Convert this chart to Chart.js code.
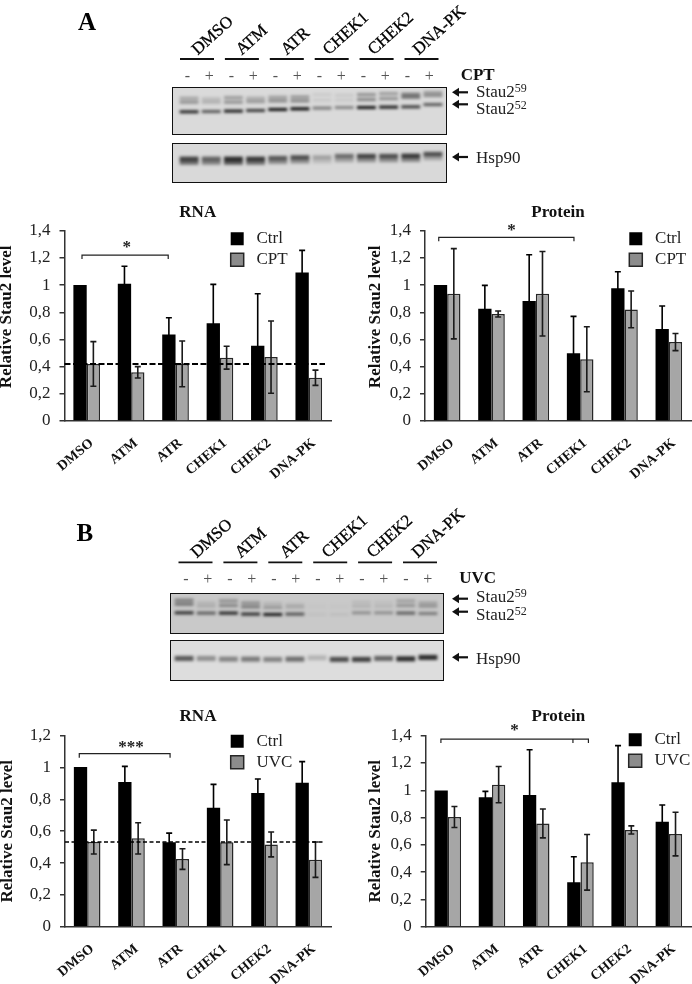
<!DOCTYPE html>
<html>
<head>
<meta charset="utf-8">
<title>Stau2 levels</title>
<script src="https://cdn.jsdelivr.net/npm/chart.js@4/dist/chart.umd.js"></script>
<style>
  html, body { margin: 0; padding: 0; background: #fff; }
  #page { position: relative; width: 692px; height: 984px; overflow: hidden; font-family: "Liberation Serif", serif; color: #111; }
  #page canvas { position: absolute; }
  .txt { position: absolute; white-space: nowrap; line-height: 1; }
  .rot { transform-origin: left center; transform: rotate(-42deg); font-size: 17px; color: #000; -webkit-text-stroke: 0.3px #000; }
  .lane { font-size: 16px; color: #555; transform: translateX(-50%); }
  .side { font-size: 17px; color: #222; }
  .side sup { font-size: 12px; line-height: 0; vertical-align: 5px; }
  .panel { position: absolute; box-sizing: border-box; border: 1.5px solid #111; overflow: hidden; }
  .panel canvas { filter: blur(1.4px); }
  svg { position: absolute; left: 0; top: 0; }
</style>
</head>
<body>
<div id="page">
  <canvas id="rnaA" width="346" height="290" style="left:0;top:195px"></canvas>
  <canvas id="proteinA" width="346" height="290" style="left:346px;top:195px"></canvas>
  <canvas id="rnaB" width="346" height="289" style="left:0;top:695px"></canvas>
  <canvas id="proteinB" width="346" height="289" style="left:346px;top:695px"></canvas>
  <svg id="marks" width="692" height="984"></svg>
</div>
<script>
const categories = ["DMSO", "ATM", "ATR", "CHEK1", "CHEK2", "DNA-PK"];
const lanes = ["-", "+", "-", "+", "-", "+", "-", "+", "-", "+", "-", "+"];

// panel A, RNA
const rnaCtrlA = [1.0, 1.01, 0.637, 0.72, 0.554, 1.093];
const rnaCtrlErrA = [0, 0.128, 0.123, 0.285, 0.382, 0.162];
const rnaCptA = [0.42, 0.358, 0.42, 0.466, 0.47, 0.318];
const rnaCptErrA = [0.164, 0.042, 0.168, 0.084, 0.266, 0.056];

// panel A, protein
const protCtrlA = [1.0, 0.826, 0.882, 0.498, 0.976, 0.677];
const protCtrlErrA = [0, 0.172, 0.341, 0.272, 0.122, 0.169];
const protCptA = [0.936, 0.787, 0.936, 0.454, 0.821, 0.581];
const protCptErrA = [0.332, 0.022, 0.311, 0.239, 0.135, 0.063];

// panel B, RNA
const rnaCtrlB = [1.003, 0.909, 0.53, 0.748, 0.84, 0.905];
const rnaCtrlErrB = [0, 0.098, 0.058, 0.146, 0.088, 0.132];
const rnaUvcB = [0.532, 0.555, 0.425, 0.53, 0.517, 0.421];
const rnaUvcErrB = [0.075, 0.098, 0.065, 0.14, 0.078, 0.111];

// panel B, protein
const protCtrlB = [0.999, 0.948, 0.965, 0.325, 1.058, 0.77];
const protCtrlErrB = [0, 0.044, 0.332, 0.188, 0.269, 0.122];
const protUvcB = [0.804, 1.041, 0.757, 0.472, 0.709, 0.679];
const protUvcErrB = [0.077, 0.133, 0.106, 0.204, 0.03, 0.16];

// blots: band position below the top of the panel and band density, one per lane
const stauUpperPosA = [11.3, 12, 10.7, 11.3, 10.3, 10, 7.7, 8.3, 7.7, 6.7, 7.3, 5.7];
const stauUpperDenA = [0.25, 0.15, 0.3, 0.22, 0.28, 0.32, 0.07, 0.08, 0.35, 0.3, 0.45, 0.3];
const stauMidPosA = [15.3, 15.3, 15.3, 14.7, 14, 14, 13.3, 13.3, 12.7, 11.7, 10.3, 8.7];
const stauMidDenA = [0.35, 0.2, 0.35, 0.3, 0.38, 0.4, 0.08, 0.08, 0.4, 0.35, 0.5, 0.35];
const stauLowPosA = [25, 24.7, 24.3, 23.7, 22.7, 22, 21.3, 20.7, 20.7, 20.3, 20, 17.7];
const stauLowDenA = [0.85, 0.6, 0.9, 0.75, 0.95, 1, 0.45, 0.4, 0.95, 0.9, 0.75, 0.6];
const hspUpperPosA = [16.7, 16.7, 16.7, 16.7, 16, 15.3, 15.3, 14, 14, 14, 13.7, 12];
const hspUpperDenA = [0.7, 0.55, 0.8, 0.75, 0.6, 0.65, 0.25, 0.5, 0.7, 0.65, 0.75, 0.65];
const hspLowerPosA = [20.5, 20.5, 20.5, 20.5, 19.8, 19.2, 19.2, 18, 18, 18, 17.7, 16];
const hspLowerDenA = [0.5, 0.4, 0.6, 0.5, 0.35, 0.35, 0.12, 0.25, 0.35, 0.35, 0.4, 0.25];

const stauUpperPosB = [7.3, 10, 8, 10, 11, 12, 12, 12, 9.3, 9.3, 8, 10];
const stauUpperDenB = [0.4, 0.1, 0.3, 0.3, 0.12, 0.1, 0.01, 0.01, 0.08, 0.05, 0.22, 0.2];
const stauMidPosB = [11.3, 13.3, 12.7, 14, 14.7, 14.3, 14.7, 14.7, 13.3, 13.3, 12.7, 13.3];
const stauMidDenB = [0.45, 0.15, 0.35, 0.4, 0.25, 0.15, 0.015, 0.015, 0.12, 0.1, 0.28, 0.28];
const stauLowPosB = [20, 20.3, 20.3, 21.3, 21.7, 21.3, 21.7, 21.7, 20, 20, 20.3, 20.7];
const stauLowDenB = [0.8, 0.55, 0.85, 0.8, 0.9, 0.6, 0.04, 0.05, 0.3, 0.3, 0.55, 0.4];
const hspUpperPosB = [18.3, 18.3, 19, 19, 19.3, 19, 17.7, 19.3, 19.3, 18.3, 18.7, 17.3];
const hspUpperDenB = [0.6, 0.35, 0.4, 0.45, 0.4, 0.5, 0.18, 0.65, 0.7, 0.55, 0.8, 0.8];

const SERIF = "'Liberation Serif', serif";

const extras = {
  id: "extras",
  afterLayout(chart, args, opts) {
    // put the legend inside the plot, where the figure has it
    chart.legend.left = opts.legendAt[0];
    chart.legend.top = opts.legendAt[1];
  },
  afterDatasetsDraw(chart, args, opts) {
    const ctx = chart.ctx;
    const x = chart.scales.x;
    const y = chart.scales.y;
    ctx.save();
    ctx.lineWidth = 1.6;
    opts.errors.forEach((errs, ds) => {
      ctx.strokeStyle = ds ? "#1a1a1a" : "#000";
      chart.getDatasetMeta(ds).data.forEach((bar, i) => {
        if (!errs[i]) return;
        const v = chart.data.datasets[ds].data[i];
        const hi = y.getPixelForValue(v + errs[i]);
        const lo = y.getPixelForValue(v - errs[i]);
        ctx.beginPath();
        ctx.moveTo(bar.x, hi);
        ctx.lineTo(bar.x, lo);
        ctx.moveTo(bar.x - 3, hi);
        ctx.lineTo(bar.x + 3, hi);
        ctx.moveTo(bar.x - 3, lo);
        ctx.lineTo(bar.x + 3, lo);
        ctx.stroke();
      });
    });
    if (opts.refLine) {
      const ry = y.getPixelForValue(opts.refLine);
      ctx.setLineDash(opts.refDash);
      ctx.lineWidth = opts.refWidth;
      ctx.strokeStyle = "#000";
      ctx.beginPath();
      ctx.moveTo(x.left, ry);
      ctx.lineTo(x.right - 6, ry);
      ctx.stroke();
      ctx.setLineDash([]);
    }
    // significance bracket
    const b = opts.bracket;
    const by = y.getPixelForValue(b.level);
    ctx.lineWidth = 1.2;
    ctx.strokeStyle = "#222";
    ctx.beginPath();
    ctx.moveTo(x.getPixelForValue(b.from), by + 4);
    ctx.lineTo(x.getPixelForValue(b.from), by);
    ctx.lineTo(x.getPixelForValue(b.to), by);
    ctx.lineTo(x.getPixelForValue(b.to), by + 4);
    if (b.mid) {
      ctx.moveTo(x.getPixelForValue(b.mid), by);
      ctx.lineTo(x.getPixelForValue(b.mid), by + 4);
    }
    ctx.stroke();
    ctx.fillStyle = "#222";
    ctx.font = "bold 17px " + SERIF;
    ctx.textAlign = "center";
    ctx.textBaseline = "middle";
    ctx.fillText(b.stars, x.getPixelForValue(b.starAt), y.getPixelForValue(b.starLevel) + 3);
    // y title, not always centred on the axis in the figure
    ctx.fillStyle = "#111";
    ctx.font = "bold 17px " + SERIF;
    ctx.translate(opts.titleX, (y.top + y.bottom) / 2 + opts.titleShift);
    ctx.rotate(-Math.PI / 2);
    ctx.fillText("Relative Stau2 level", 0, 0);
    ctx.restore();
  }
};

function stauChart(id, title, name, ctrl, other, ctrlErr, otherErr, max, o) {
  return new Chart(document.getElementById(id), {
    type: "bar",
    data: {
      labels: categories,
      datasets: [
        { label: "Ctrl", data: ctrl, backgroundColor: "#000", borderWidth: 0 },
        { label: name, data: other, backgroundColor: "#a6a6a6", borderColor: "#262626", borderWidth: 1.5 }
      ]
    },
    options: {
      responsive: false,
      animation: false,
      devicePixelRatio: 1,
      layout: { padding: { left: 0, right: o.padRight, top: 0, bottom: 0 } },
      datasets: { bar: { categoryPercentage: 0.6, barPercentage: 1 } },
      plugins: {
        tooltip: { enabled: false },
        title: {
          display: true, text: title, color: "#111", fullSize: false,
          font: { family: SERIF, size: 17, weight: "bold", lineHeight: 1.2 },
          padding: { top: o.titleTop, bottom: o.titleBottom }
        },
        legend: {
          position: "chartArea",
          align: "start",
          labels: {
            boxWidth: 13, boxHeight: 13, padding: 4, color: "#222",
            font: { family: SERIF, size: 17 },
            generateLabels: (c) => Chart.defaults.plugins.legend.labels.generateLabels(c).map((it, i) => ({
              ...it, text: "\u00a0" + it.text, fillStyle: i ? "#8c8c8c" : "#000"
            }))
          },
          onClick: null
        },
        extras: {
          errors: [ctrlErr, otherErr], refLine: o.refLine, refWidth: o.refWidth, refDash: o.refDash,
          bracket: o.bracket, legendAt: o.legendAt, titleX: o.titleX, titleShift: o.titleShift
        }
      },
      scales: {
        x: {
          grid: { display: false },
          border: { color: "#333", width: 1.5 },
          ticks: {
            autoSkip: false, minRotation: 40, maxRotation: 40, padding: 6, labelOffset: 5, color: "#111",
            font: { family: SERIF, size: 14, weight: "bold" }
          },
          afterFit(s) { s.height = o.xHeight; s.paddingLeft = 0; s.paddingRight = 0; }
        },
        y: {
          min: 0, max: max,
          grid: { drawOnChartArea: false, color: "#333", lineWidth: 1.5, tickLength: 5 },
          border: { color: "#333", width: 1.5 },
          ticks: {
            stepSize: 0.2, padding: 9, color: "#222",
            font: { family: SERIF, size: 17 },
            callback: (v) => String(Number(v.toFixed(1))).replace(".", ",")
          },
          afterFit(s) { s.width = o.yWidth; }
        }
      }
    },
    plugins: [extras]
  });
}

stauChart("rnaA", "RNA", "CPT", rnaCtrlA, rnaCptA, rnaCtrlErrA, rnaCptErrA, 1.4, {
  padRight: 15, titleTop: 7, titleBottom: 8.3, xHeight: 64, yWidth: 64.5,
  refLine: 0.42, refWidth: 2, refDash: [6, 2.5], titleX: 7, titleShift: -9, legendAt: [226.7, 31.3],
  bracket: { from: -0.106, to: 1.835, level: 1.221, stars: "*", starAt: 0.9, starLevel: 1.294 }
});
stauChart("proteinA", "Protein", "CPT", protCtrlA, protCptA, protCtrlErrA, protCptErrA, 1.4, {
  padRight: 1, titleTop: 7, titleBottom: 8.3, xHeight: 64, yWidth: 79,
  titleX: 29.3, titleShift: -9, legendAt: [279.3, 31.3],
  bracket: { from: -0.19, to: 2.86, level: 1.351, stars: "*", starAt: 1.45, starLevel: 1.424 }
});
stauChart("rnaB", "RNA", "UVC", rnaCtrlB, rnaUvcB, rnaCtrlErrB, rnaUvcErrB, 1.2, {
  padRight: 15, titleTop: 11.3, titleBottom: 9, xHeight: 57.3, yWidth: 65,
  refLine: 0.532, refWidth: 1.5, refDash: [4, 2.5], titleX: 7.3, titleShift: 0, legendAt: [226.7, 33.7],
  bracket: { from: -0.178, to: 1.87, level: 1.087, stars: "***", starAt: 0.99, starLevel: 1.141 }
});
stauChart("proteinB", "Protein", "UVC", protCtrlB, protUvcB, protCtrlErrB, protUvcErrB, 1.4, {
  padRight: 1, titleTop: 11.3, titleBottom: 9, xHeight: 57.3, yWidth: 79.7,
  titleX: 29.3, titleShift: 0, legendAt: [278.7, 32.3],
  bracket: { from: -0.156, to: 3.18, mid: 2.83, level: 1.375, stars: "*", starAt: 1.51, starLevel: 1.461 }
});

// one blot panel: a small bar chart of floating bars, one dataset per band row
function blot(left, top, right, bottom, laneLeft, bg, bands) {
  const page = document.getElementById("page");
  const panel = document.createElement("div");
  panel.className = "panel";
  panel.style.cssText = `left:${left}px;top:${top}px;width:${right - left}px;height:${bottom - top}px;background:${bg}`;
  const h = bottom - top;
  const cv = document.createElement("canvas");
  cv.width = 266;
  cv.height = Math.round(h);
  cv.style.left = laneLeft - left - 1.5 + "px";
  cv.style.top = "-1.5px";
  panel.appendChild(cv);
  page.appendChild(panel);
  new Chart(cv, {
    type: "bar",
    data: {
      labels: lanes.map((l, i) => i + l),
      datasets: bands.map((b) => ({
        data: b.pos.map((p) => [p - b.thick / 2, p + b.thick / 2]),
        backgroundColor: b.den.map((d) => `rgba(0,0,0,${d})`),
        borderWidth: 0
      }))
    },
    options: {
      responsive: false, animation: false, devicePixelRatio: 1,
      layout: { padding: 0 },
      datasets: { bar: { grouped: false, categoryPercentage: 1, barPercentage: 0.85 } },
      plugins: { legend: { display: false }, tooltip: { enabled: false }, title: { display: false } },
      scales: {
        x: { display: false },
        y: { display: false, reverse: true, min: 0, max: h }
      }
    }
  });
}

blot(171.7, 87.3, 446.7, 134.7, 178.6, "#dadada", [
  { pos: stauUpperPosA, den: stauUpperDenA, thick: 3 },
  { pos: stauMidPosA, den: stauMidDenA, thick: 3 },
  { pos: stauLowPosA, den: stauLowDenA, thick: 3 }
]);
blot(171.7, 142.7, 446.7, 183.3, 178.6, "#d9d9d9", [
  { pos: hspUpperPosA, den: hspUpperDenA, thick: 4.4 },
  { pos: hspLowerPosA, den: hspLowerDenA, thick: 4 }
]);
blot(170, 593.3, 444, 633.7, 173.2, "#c9c9c9", [
  { pos: stauUpperPosB, den: stauUpperDenB, thick: 3 },
  { pos: stauMidPosB, den: stauMidDenB, thick: 3 },
  { pos: stauLowPosB, den: stauLowDenB, thick: 3 }
]);
blot(170, 640.3, 444, 681, 173.2, "#dddddd", [
  { pos: hspUpperPosB, den: hspUpperDenB, thick: 5 }
]);

// header text, lane signs, arrows
function addText(cls, x, y, html, extra) {
  const d = document.createElement("div");
  d.className = "txt " + cls;
  d.style.left = x + "px";
  d.style.top = y + "px";
  d.innerHTML = html;
  if (extra) d.style.cssText += extra;
  document.getElementById("page").appendChild(d);
}

const svg = document.getElementById("marks");
function addLine(x1, y1, x2, y2, w) {
  const l = document.createElementNS("http://www.w3.org/2000/svg", "line");
  l.setAttribute("x1", x1); l.setAttribute("y1", y1);
  l.setAttribute("x2", x2); l.setAttribute("y2", y2);
  l.setAttribute("stroke", "#111"); l.setAttribute("stroke-width", w);
  svg.appendChild(l);
}
function addArrow(x, y) {
  addLine(x + 4, y, x + 16, y, 2.2);
  const p = document.createElementNS("http://www.w3.org/2000/svg", "polygon");
  p.setAttribute("points", `${x},${y} ${x + 7},${y - 4.5} ${x + 7},${y + 4.5}`);
  p.setAttribute("fill", "#111");
  svg.appendChild(p);
}

function header(letter, letterY, name, dx, dy, arrows, labelYs) {
  addText("", 78 + dx, letterY, letter, "font-size:25px;font-weight:bold;color:#000");
  const nameStart = [194, 238, 283, 325, 370, 415];
  categories.forEach((c, i) => {
    addLine(180 + 44.9 * i + dx, 59 + dy, 214 + 44.9 * i + dx, 59 + dy, 1.8);
    addText("rot", nameStart[i] + dx, 43 + dy, c);
  });
  lanes.forEach((l, i) => addText("lane", 187.3 + 22 * i + dx, 68 + dy, l));
  addText("", 460.7 + dx, 65.5 + dy, name, "font-size:17px;font-weight:bold;color:#111");
  arrows.forEach((y) => addArrow(452, y));
  addText("side", 476, labelYs[0], "Stau2<sup>59</sup>");
  addText("side", 476, labelYs[1], "Stau2<sup>52</sup>");
  addText("side", 476, labelYs[2], "Hsp90");
}
header("A", 9, "CPT", 0, 0, [92.3, 104.3, 157], [83, 100, 149]);
header("B", 520, "UVC", -1.5, 503.3, [598.7, 611.7, 657.3], [588, 606, 649.5]);
</script>
</body>
</html>
